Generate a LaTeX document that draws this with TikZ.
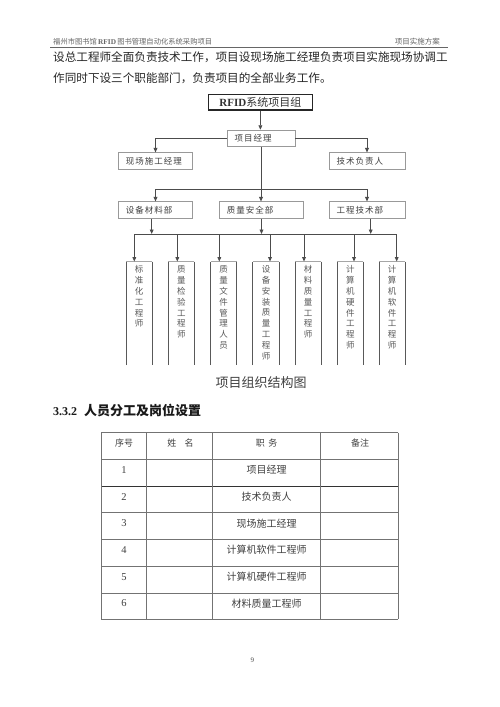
\documentclass[tikz,border=0pt]{standalone}
\usepackage{fontspec}
\setmainfont{Liberation Serif}
\newfontfamily\cjk{Noto Sans CJK SC}
\newfontfamily\cjks[LetterSpace=12]{Noto Sans CJK SC}
\usetikzlibrary{arrows.meta,calc}
\begin{document}
\begin{tikzpicture}[x=1pt,y=-1pt,
  ln/.style={draw=black!70, line width=0.8pt},
  arr/.style={ln, -{Triangle[length=4.5pt,width=3.8pt]}},
  box/.style={draw=black!40, line width=0.7pt, minimum height=16.4pt, inner ysep=0pt, inner xsep=7.5pt, align=left, font=\cjks\fontsize{8.5}{10}\selectfont, text=black!75},
  vt/.style={inner sep=0pt, align=center, font=\cjk\fontsize{8.5}{10.8}\selectfont, text=black!65},
  tbl/.style={draw=black!55, line width=0.8pt},
  tt/.style={inner sep=0pt, font=\cjk\fontsize{10}{11}\selectfont, text=black!75},
  tn/.style={inner sep=0pt, font=\fontsize{10.5}{11}\selectfont, text=black!75}
]
\path[use as bounding box, fill=white] (0,0) rectangle (500,707);

% page header
\node[anchor=west, inner sep=0pt, font=\fontsize{7.3}{8}\selectfont, text=black!60] (hl) at (53,41.5) {{\cjk 福州市图书馆}\,\textbf{RFID}\,{\cjk 图书管理自动化系统采购项目}};
\node[anchor=east, inner sep=0pt, font=\cjk\fontsize{7.5}{8}\selectfont, text=black!60] (hr) at (440,41.5) {项目实施方案};
\draw[black!60, line width=1pt] (50,47) -- (448,47);

% body text
\node[anchor=west, inner sep=0pt, font=\cjk\fontsize{11.6}{12}\selectfont, text=black!85] (p1) at (53,57.5) {设总工程师全面负责技术工作，项目设现场施工经理负责项目实施现场协调工};
\node[anchor=west, inner sep=0pt, font=\cjk\fontsize{11.6}{12}\selectfont, text=black!85] (p2) at (53,78.5) {作同时下设三个职能部门，负责项目的全部业务工作。};

% org chart
\node[draw=black!85, line width=1.6pt, minimum width=104pt, minimum height=15.8pt, inner sep=0pt, font=\fontsize{11}{12}\selectfont, text=black!80] (top) at (260.4,102.3) {\textbf{RFID}{\cjk 系统项目组}};
\node[box, text width=53pt] (pm) at (261,138.3) {项目经理};
\node[box, text width=59.4pt] (xc) at (155.5,161) {现场施工经理};
\node[box, text width=60.7pt] (js) at (367,161) {技术负责人};
\node[box, text width=59.4pt] (sb) at (155.5,210) {设备材料部};
\node[box, text width=69pt] (zl) at (261.3,210) {质量安全部};
\node[box, text width=60.7pt] (gc) at (367,210) {工程技术部};

\draw[arr] (top.south) -- (top.south |- pm.north);
\draw[arr] (pm.west) -| (xc.north);
\draw[arr] (pm.east) -| (js.north);
\coordinate (bj) at (261,189);
\draw[ln] (pm.south) -- (bj);
\draw[arr] (bj) -- (bj |- zl.north);
\draw[arr] (bj) -| (sb.north);
\draw[arr] (bj) -| (gc.north);

\coordinate (d1) at (151.7,234);
\coordinate (d2) at (261.5,234);
\coordinate (d3) at (370.7,234);
\draw[arr] (d1 |- sb.south) -- (d1);
\draw[arr] (d2 |- zl.south) -- (d2);
\draw[arr] (d3 |- gc.south) -- (d3);

\coordinate (k1) at (134.3,234);
\coordinate (k2) at (177.3,234);
\coordinate (k3) at (219.3,234);
\coordinate (k4) at (270,234);
\coordinate (k5) at (304,234);
\coordinate (k6) at (354,234);
\coordinate (k7) at (396.7,234);
\draw[ln] (k1) -- (k7);

\foreach \i/\x in {1/139.2,2/181.3,3/223.7,4/266,5/308.2,6/350.3,7/392.2}{
  \node[minimum width=25.8pt, minimum height=103.3pt, inner sep=0pt] (b\i) at (\x,313.35) {};
  \draw[black!35, line width=0.7pt] (b\i.north west) -- (b\i.north east);
  \draw[black!65, line width=1pt] (b\i.south west) -- (b\i.north west) (b\i.north east) -- (b\i.south east);
  \draw[arr] (k\i) -- (k\i |- b\i.north);
}
\node[vt, anchor=north] (t1) at ($(b1.north)+(0,4)$) {标\\准\\化\\工\\程\\师};
\node[vt, anchor=north] (t2) at ($(b2.north)+(0,4)$) {质\\量\\检\\验\\工\\程\\师};
\node[vt, anchor=north] (t3) at ($(b3.north)+(0,4)$) {质\\量\\文\\件\\管\\理\\人\\员};
\node[vt, anchor=north] (t4) at ($(b4.north)+(0,4)$) {设\\备\\安\\装\\质\\量\\工\\程\\师};
\node[vt, anchor=north] (t5) at ($(b5.north)+(0,4)$) {材\\料\\质\\量\\工\\程\\师};
\node[vt, anchor=north] (t6) at ($(b6.north)+(0,4)$) {计\\算\\机\\硬\\件\\工\\程\\师};
\node[vt, anchor=north] (t7) at ($(b7.north)+(0,4)$) {计\\算\\机\\软\\件\\工\\程\\师};

\node[inner sep=0pt, font=\cjk\fontsize{13}{14}\selectfont, text=black!75] (cap) at (261.2,382.7) {项目组织结构图};

% section heading
\node[anchor=west, inner sep=0pt, font=\bfseries\fontsize{12}{13}\selectfont, text=black!90] (sec) at (53,410.7) {3.3.2\hspace{7pt}{\cjk\bfseries\fontsize{13}{14}\selectfont 人员分工及岗位设置}};

% table
\foreach \y in {432.7,459.3,486.7,512.7,539.3,566.3,593,619.3}{
  \draw[tbl] (101.3,\y) -- (398.3,\y);
}
\draw[draw=black!80, line width=0.9pt] (101.3,486.7) -- (398.3,486.7);
\foreach \x in {101.3,146.7,212.7,320.7,398.3}{
  \draw[tbl] (\x,432.7) -- (\x,619.3);
}
\node[tt, font=\cjk\fontsize{9}{10}\selectfont] (h1) at (124,443.3) {序号};
\node[tt, font=\cjk\fontsize{9}{10}\selectfont] (h2) at (180.5,443.3) {姓\hspace{0.9em}名};
\node[tt, font=\cjk\fontsize{9}{10}\selectfont] (h3) at (266.7,443.3) {职\hspace{0.4em}务};
\node[tt, font=\cjk\fontsize{9}{10}\selectfont] (h4) at (360,443.3) {备注};

\node[tn] (n1) at (124,470) {1};
\node[tn] (n2) at (124,497) {2};
\node[tn] (n3) at (124,523.5) {3};
\node[tn] (n4) at (124,550) {4};
\node[tn] (n5) at (124,576.8) {5};
\node[tn] (n6) at (124,603.5) {6};
\node[tt] (r1) at (266.7,470) {项目经理};
\node[tt] (r2) at (266.7,497) {技术负责人};
\node[tt] (r3) at (266.7,523.5) {现场施工经理};
\node[tt] (r4) at (266.7,550) {计算机软件工程师};
\node[tt] (r5) at (266.7,576.8) {计算机硬件工程师};
\node[tt] (r6) at (266.7,603.5) {材料质量工程师};

% page number
\node[inner sep=0pt, font=\fontsize{7}{8}\selectfont, text=black!70] (pg) at (252.3,660.7) {9};
\end{tikzpicture}
\end{document}
